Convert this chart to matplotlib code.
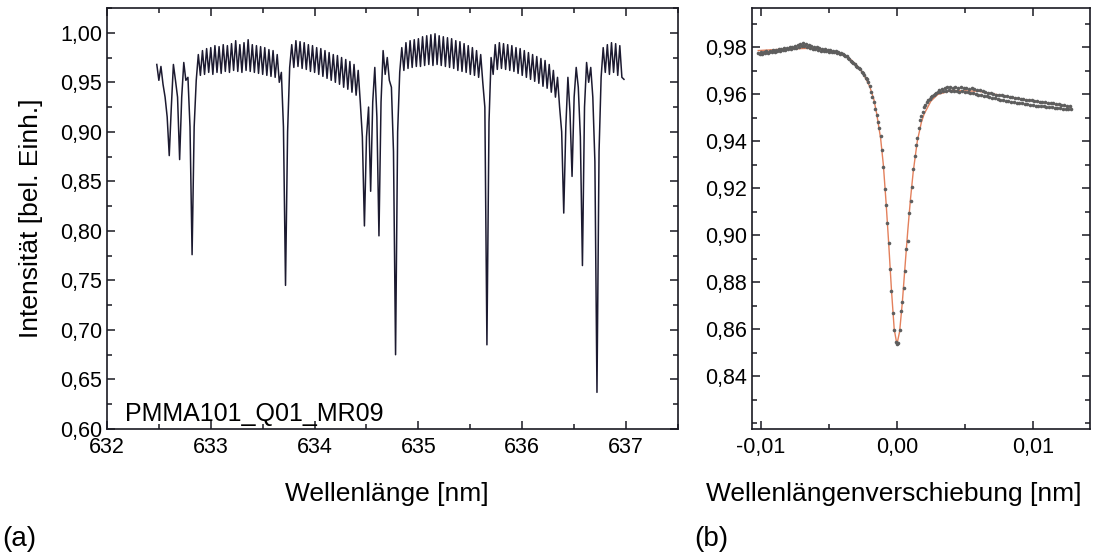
import matplotlib
matplotlib.use('Agg')
import matplotlib.pyplot as plt
import matplotlib.ticker as ticker
import numpy as np

plt.rcParams['font.family'] = ['Liberation Sans', 'DejaVu Sans']

# (a) transmission spectrum, sampled every 0.02 nm starting at 632.48 nm
wl_start = 632.48
wl_step = 0.02
intensity = [
    0.968, 0.952, 0.966, 0.948, 0.935, 0.915, 0.876, 0.925, 0.968, 0.952,
    0.935, 0.872, 0.935, 0.970, 0.952, 0.955, 0.905, 0.776, 0.905, 0.952,
    0.978, 0.957, 0.982, 0.958, 0.984, 0.960, 0.985, 0.958, 0.987, 0.960,
    0.986, 0.959, 0.988, 0.961, 0.987, 0.960, 0.989, 0.962, 0.992, 0.961,
    0.988, 0.960, 0.990, 0.962, 0.993, 0.961, 0.988, 0.960, 0.987, 0.959,
    0.986, 0.958, 0.985, 0.957, 0.983, 0.956, 0.982, 0.955, 0.978, 0.950,
    0.960, 0.905, 0.745, 0.900, 0.965, 0.988, 0.965, 0.992, 0.966, 0.991,
    0.964, 0.990, 0.963, 0.988, 0.961, 0.987, 0.960, 0.985, 0.958, 0.984,
    0.956, 0.982, 0.954, 0.980, 0.952, 0.978, 0.950, 0.977, 0.948, 0.975,
    0.945, 0.973, 0.943, 0.971, 0.940, 0.968, 0.937, 0.962, 0.930, 0.895,
    0.805, 0.895, 0.925, 0.840, 0.930, 0.965, 0.915, 0.795, 0.930, 0.982,
    0.958, 0.975, 0.952, 0.945, 0.880, 0.675, 0.900, 0.960, 0.985, 0.962,
    0.990, 0.964, 0.992, 0.965, 0.993, 0.966, 0.994, 0.966, 0.996, 0.967,
    0.997, 0.968, 0.998, 0.967, 0.999, 0.968, 0.997, 0.967, 0.996, 0.966,
    0.995, 0.965, 0.994, 0.964, 0.992, 0.962, 0.991, 0.961, 0.989, 0.960,
    0.987, 0.958, 0.985, 0.957, 0.982, 0.955, 0.978, 0.950, 0.925, 0.685,
    0.910, 0.975, 0.958, 0.988, 0.963, 0.990, 0.964, 0.989, 0.963, 0.988,
    0.962, 0.987, 0.961, 0.985, 0.959, 0.984, 0.957, 0.982, 0.955, 0.980,
    0.953, 0.978, 0.951, 0.976, 0.949, 0.974, 0.946, 0.972, 0.944, 0.968,
    0.940, 0.962, 0.935, 0.955, 0.925, 0.900, 0.818, 0.905, 0.955, 0.920,
    0.855, 0.935, 0.965, 0.945, 0.895, 0.765, 0.925, 0.970, 0.950, 0.965,
    0.935, 0.870, 0.637, 0.880, 0.955, 0.985, 0.960, 0.988, 0.958, 0.990,
    0.960, 0.989, 0.957, 0.987, 0.955, 0.953,
]

# (b) single resonance, measured points every 0.0001 nm starting at -0.0102 nm
shift_start = -0.0102
shift_step = 0.0001
resonance = [
    0.9775, 0.9772, 0.9778, 0.9770, 0.9780, 0.9776, 0.9783, 0.9774, 0.9779, 0.9785,
    0.9777, 0.9786, 0.9780, 0.9789, 0.9782, 0.9790, 0.9784, 0.9792, 0.9786, 0.9794,
    0.9788, 0.9795, 0.9790, 0.9798, 0.9791, 0.9802, 0.9794, 0.9806, 0.9797, 0.9810,
    0.9800, 0.9815, 0.9804, 0.9818, 0.9806, 0.9812, 0.9800, 0.9808, 0.9795, 0.9805,
    0.9792, 0.9802, 0.9790, 0.9798, 0.9788, 0.9796, 0.9785, 0.9793, 0.9784, 0.9790,
    0.9782, 0.9788, 0.9780, 0.9786, 0.9779, 0.9784, 0.9777, 0.9782, 0.9774, 0.9780,
    0.9772, 0.9776, 0.9770, 0.9768, 0.9762, 0.9760, 0.9752, 0.9750, 0.9742, 0.9738,
    0.9732, 0.9726, 0.9720, 0.9715, 0.9710, 0.9705, 0.9695, 0.9690, 0.9680, 0.9670,
    0.9665, 0.9650, 0.9635, 0.9610, 0.9587, 0.9565, 0.9538, 0.9510, 0.9480, 0.9455,
    0.9420, 0.9360, 0.9290, 0.9195, 0.9128, 0.9050, 0.8966, 0.8855, 0.8760, 0.8668,
    0.8595, 0.8545, 0.8535, 0.8540, 0.8595, 0.8677, 0.8715, 0.8774, 0.8847, 0.8940,
    0.8974, 0.9094, 0.9145, 0.9205, 0.9280, 0.9335, 0.9385, 0.9415, 0.9455, 0.9490,
    0.9505, 0.9525, 0.9545, 0.9555, 0.9565, 0.9574, 0.9580, 0.9588, 0.9592, 0.9598,
    0.9602, 0.9604, 0.9610, 0.9618, 0.9608, 0.9622, 0.9612, 0.9626, 0.9614, 0.9628,
    0.9616, 0.9630, 0.9612, 0.9627, 0.9615, 0.9631, 0.9613, 0.9626, 0.9610, 0.9629,
    0.9612, 0.9624, 0.9608, 0.9626, 0.9610, 0.9622, 0.9604, 0.9624, 0.9606, 0.9620,
    0.9602, 0.9618, 0.9598, 0.9616, 0.9596, 0.9612, 0.9592, 0.9610, 0.9590, 0.9606,
    0.9586, 0.9604, 0.9584, 0.9602, 0.9582, 0.9598, 0.9578, 0.9596, 0.9576, 0.9594,
    0.9574, 0.9592, 0.9572, 0.9590, 0.9570, 0.9588, 0.9568, 0.9586, 0.9566, 0.9584,
    0.9564, 0.9582, 0.9562, 0.9580, 0.9562, 0.9578, 0.9558, 0.9576, 0.9556, 0.9575,
    0.9554, 0.9573, 0.9553, 0.9572, 0.9551, 0.9570, 0.9550, 0.9568, 0.9548, 0.9567,
    0.9547, 0.9565, 0.9546, 0.9563, 0.9544, 0.9562, 0.9543, 0.9560, 0.9542, 0.9558,
    0.9540, 0.9556, 0.9539, 0.9554, 0.9538, 0.9552, 0.9537, 0.9550, 0.9536, 0.9548,
    0.9535,
]

# fitted curve
fit_x = [-0.0102, -0.008, -0.006, -0.005, -0.004, -0.0035, -0.003, -0.0025, -0.002,
         -0.0017, -0.0015, -0.0012, -0.001, -0.0008, -0.0006, -0.0004, -0.0002, 0.0,
         0.0002, 0.0004, 0.0006, 0.0008, 0.001, 0.0012, 0.0015, 0.0018, 0.002, 0.0025,
         0.003, 0.004, 0.006, 0.009, 0.0128]
fit_y = [0.9785, 0.9792, 0.9795, 0.9785, 0.9768, 0.9752, 0.9725, 0.9690, 0.9632,
         0.9578, 0.9520, 0.9412, 0.9300, 0.9140, 0.8960, 0.8765, 0.8600, 0.8535,
         0.8590, 0.8715, 0.8870, 0.9020, 0.9155, 0.9270, 0.9400, 0.9480, 0.9515, 0.9570,
         0.9598, 0.9615, 0.9612, 0.9580, 0.9545]

wl = wl_start + wl_step * np.arange(len(intensity))
shift = shift_start + shift_step * np.arange(len(resonance))


def comma(fmt):
    return ticker.FuncFormatter(lambda v, _: (fmt % (0.0 if abs(v) < 1e-9 else v)).replace('.', ','))


def style(ax):
    for s in ax.spines.values():
        s.set_linewidth(1.2)
        s.set_color('#1a1a22')
    ax.tick_params(which='both', direction='in', top=True, right=True, color='#1a1a22',
                   labelsize=15.5, width=1.1)
    ax.tick_params(which='major', length=6)
    ax.tick_params(which='minor', length=3.5)
    ax.tick_params(axis='x', pad=6)


fig = plt.figure(figsize=(10.97, 5.56), dpi=100)
ax1 = fig.add_axes([0.0975, 0.2284, 0.5205, 0.7572])
ax2 = fig.add_axes([0.6855, 0.2284, 0.3081, 0.7572])

ax1.plot(wl, intensity, color='#1c1a30', lw=1.1)
ax1.set_xlim(632, 637.5)
ax1.set_ylim(0.60, 1.025)
ax1.xaxis.set_major_locator(ticker.MultipleLocator(1))
ax1.xaxis.set_minor_locator(ticker.MultipleLocator(0.5))
ax1.yaxis.set_major_locator(ticker.MultipleLocator(0.05))
ax1.yaxis.set_minor_locator(ticker.MultipleLocator(0.025))
ax1.xaxis.set_major_formatter(ticker.FuncFormatter(lambda v, _: '%d' % round(v)))
ax1.yaxis.set_major_formatter(comma('%.2f'))
style(ax1)
ax1.set_xlabel('Wellenlänge [nm]', fontsize=19)
ax1.xaxis.set_label_coords(0.49, -0.125)
ax1.set_ylabel('Intensität [bel. Einh.]', fontsize=19)
ax1.yaxis.set_label_coords(-0.112, 0.5)
ax1.text(632.17, 0.603, 'PMMA101_Q01_MR09', fontsize=18, ha='left', va='bottom')

ax2.plot(fit_x, fit_y, color='#e3805c', lw=1.0, zorder=2)
ax2.plot(shift, resonance, 'o', color='#5e5e5e', ms=2.6, mew=0, zorder=3)
ax2.set_xlim(-0.01066, 0.0142)
ax2.set_ylim(0.8175, 0.9966)
ax2.xaxis.set_major_locator(ticker.MultipleLocator(0.01))
ax2.xaxis.set_minor_locator(ticker.MultipleLocator(0.005))
ax2.yaxis.set_major_locator(ticker.FixedLocator([0.84, 0.86, 0.88, 0.90, 0.92, 0.94, 0.96, 0.98]))
ax2.yaxis.set_minor_locator(ticker.MultipleLocator(0.01))
ax2.xaxis.set_major_formatter(comma('%.2f'))
ax2.yaxis.set_major_formatter(comma('%.2f'))
style(ax2)
ax2.set_xlabel('Wellenlängenverschiebung [nm]', fontsize=19)
ax2.xaxis.set_label_coords(0.42, -0.125)

fig.text(0.002, 0.008, '(a)', fontsize=20, ha='left', va='bottom')
fig.text(0.633, 0.008, '(b)', fontsize=20, ha='left', va='bottom')

fig.savefig('out.png', dpi=100)
